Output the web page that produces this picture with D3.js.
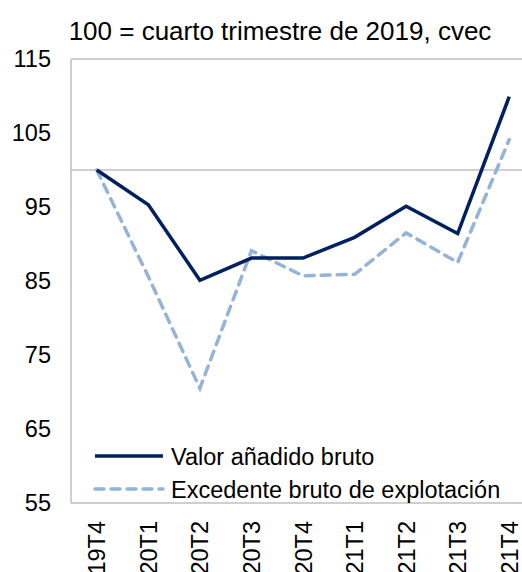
<!DOCTYPE html>
<html>
<head>
<meta charset="utf-8">
<style>
body { margin: 0; background: white; }
text { font-family: "Liberation Sans", Arial, sans-serif; fill: #000; }
</style>
<script src="https://d3js.org/d3.v7.min.js"></script>
</head>
<body>
<div id="chart"></div>
<script>
var quarters = ["19T4", "20T1", "20T2", "20T3", "20T4", "21T1", "21T2", "21T3", "21T4"];
var vab = [100, 95.3, 85.1, 88.1, 88.1, 90.9, 95.1, 91.4, 109.9];
var ebe = [100, 85.6, 70.5, 89.1, 85.7, 85.9, 91.5, 87.5, 104.1];
var yTicks = [55, 65, 75, 85, 95, 105, 115];
var seriesNames = ["Valor añadido bruto", "Excedente bruto de explotación"];

var W = 522, H = 572;
var margin = {top: 59, left: 71, bottom: 503, right: 535};

var svg = d3.select("#chart").append("svg")
    .attr("width", W)
    .attr("height", H);

var x = d3.scaleBand().domain(quarters).range([margin.left, margin.right]);
var y = d3.scaleLinear().domain([55, 115]).range([margin.bottom, margin.top]);
var cx = function(d) { return x(d) + x.bandwidth() / 2; };

// title
svg.append("text")
    .attr("x", 280).attr("y", 40)
    .attr("text-anchor", "middle")
    .attr("font-size", "26px")
    .text("100 = cuarto trimestre de 2019, cvec");

// frame
var grey = "#BFBFBF";
svg.append("line").attr("x1", margin.left).attr("x2", W)
    .attr("y1", y(115)).attr("y2", y(115)).attr("stroke", grey).attr("stroke-width", 1.5);
svg.append("line").attr("x1", margin.left).attr("x2", W)
    .attr("y1", y(55)).attr("y2", y(55)).attr("stroke", grey).attr("stroke-width", 1.5);
svg.append("line").attr("x1", margin.left).attr("x2", W)
    .attr("y1", y(100)).attr("y2", y(100)).attr("stroke", grey).attr("stroke-width", 1.5);
svg.append("line").attr("x1", margin.left).attr("x2", margin.left)
    .attr("y1", y(115)).attr("y2", y(55)).attr("stroke", grey).attr("stroke-width", 1.5);

// y axis labels
var yAxis = svg.append("g")
    .attr("transform", "translate(" + (margin.left - 20) + ",0)")
    .call(d3.axisLeft(y).tickValues(yTicks).tickSize(0).tickPadding(0));
yAxis.select(".domain").remove();
yAxis.selectAll("text")
    .attr("font-size", "23.5px")
    .attr("font-family", "Liberation Sans, Arial, sans-serif")
    .attr("fill", "#000");

// x axis labels (rotated)
svg.selectAll(".xlab").data(quarters).enter()
    .append("text")
    .attr("class", "xlab")
    .attr("font-size", "23.5px")
    .attr("text-anchor", "end")
    .attr("transform", function(d) { return "translate(" + (cx(d) + 8.5) + "," + (y(55) + 18) + ") rotate(-90)"; })
    .text(function(d) { return d; });

var line = d3.line()
    .x(function(d, i) { return cx(quarters[i]); })
    .y(function(d) { return y(d); });

svg.append("path").datum(ebe)
    .attr("d", line)
    .attr("fill", "none")
    .attr("stroke", "#95B3D7")
    .attr("stroke-width", 3.5)
    .attr("stroke-dasharray", "9,7")
    .attr("stroke-linecap", "round");

svg.append("path").datum(vab)
    .attr("d", line)
    .attr("fill", "none")
    .attr("stroke", "#002060")
    .attr("stroke-width", 3.5);

// legend
var legend = svg.append("g");
var legY = [456, 489];
legend.append("line").attr("x1", 95).attr("x2", 163).attr("y1", legY[0]).attr("y2", legY[0])
    .attr("stroke", "#002060").attr("stroke-width", 3.5);
legend.append("line").attr("x1", 95).attr("x2", 163).attr("y1", legY[1]).attr("y2", legY[1])
    .attr("stroke", "#95B3D7").attr("stroke-width", 3.5)
    .attr("stroke-dasharray", "9,7").attr("stroke-linecap", "round");
legend.selectAll("text").data(seriesNames).enter()
    .append("text")
    .attr("x", 171)
    .attr("y", function(d, i) { return legY[i] + 8.5; })
    .attr("font-size", "23.5px")
    .text(function(d) { return d; });
</script>
</body>
</html>
